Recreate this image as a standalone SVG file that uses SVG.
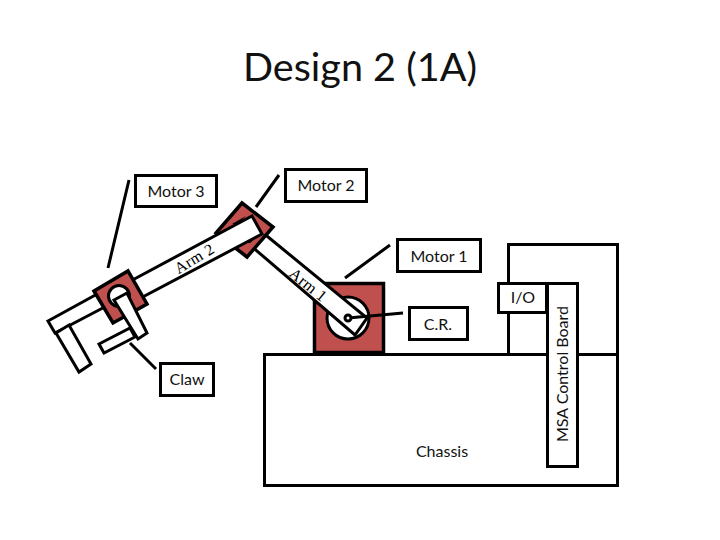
<svg xmlns="http://www.w3.org/2000/svg" width="720" height="540" viewBox="0 0 720 540">
<style>
text{font-family:"Lato","Liberation Sans",sans-serif;font-size:16px;fill:#111;text-anchor:middle}
.b{fill:#fff;stroke:#000;stroke-width:3}
.r{fill:#c0504d;stroke:#000;stroke-width:3.5;stroke-linejoin:miter}
.o{fill:#fff;stroke:#000;stroke-width:3;stroke-linejoin:miter}
.l{fill:none;stroke:#000;stroke-width:3}
text.s{font-family:"Liberation Serif",serif;font-size:16px;letter-spacing:.4px;fill:#000}
</style>
<rect width="720" height="540" fill="#fff"/>
<text id="title" x="360" y="81" style="font-size:39px" textLength="234" lengthAdjust="spacingAndGlyphs">Design 2 (1A)</text>
<g id="base-box"><rect class="b" x="508.5" y="244.5" width="109" height="110"/></g>
<g id="chassis"><rect class="b" x="264.5" y="354.5" width="353" height="131"/><text x="442" y="457">Chassis</text></g>
<g id="motor1-part"><rect class="r" x="314.5" y="283.5" width="69" height="69"/><circle class="o" cx="348" cy="318" r="21"/></g>
<g id="arm1"><polygon class="o" points="262,232 367,318 355,335 250,245"/><text class="s" transform="translate(305,289) rotate(39)">Arm 1</text></g>
<g id="motor2-part"><polygon class="r" points="242,203 273,227 247,257 216,233"/></g>
<g id="arm2"><polygon class="o" points="125,284 252,216 262,234 135,301"/><text class="s" transform="translate(197,263) rotate(-31)">Arm 2</text><path d="M232 224L246 216L238 224ZM245 243L258 236L250 243Z" fill="#000"/></g>
<g id="claw-arm"><polygon class="o" points="48,321 110,287 118,300 55,333"/></g>
<g id="left-finger"><polygon class="o" points="56,333 69,325 91,364 79,372"/></g>
<g id="motor3-part"><polygon class="r" points="94,291 128,271 147,304 113,323"/><circle class="o" cx="119" cy="296" r="10.5"/></g>
<g id="claw-parts"><polygon class="o" points="99,344 130,328 135,337 104,353"/><polygon class="o" points="114,300 127,293 147,333 138,339"/></g>
<g id="connectors">
<path class="l" d="M129 180L108 268M279 175L256 207M390 245L345 278M130 343L156 369M348 318L403 313"/>
<circle class="o" cx="348" cy="318" r="3"/>
</g>
<g id="motor3"><rect class="b" x="135.5" y="175.5" width="81" height="31"/><text x="176" y="197">Motor 3</text></g>
<g id="motor2"><rect class="b" x="285.5" y="169.5" width="81" height="32"/><text x="326" y="191">Motor 2</text></g>
<g id="motor1"><rect class="b" x="397.5" y="239.5" width="83" height="32"/><text x="439" y="262">Motor 1</text></g>
<g id="cr"><rect class="b" x="409.5" y="307.5" width="58" height="32"/><text x="438" y="330">C.R.</text></g>
<g id="claw"><rect class="b" x="160.5" y="363.5" width="53" height="32"/><text x="187" y="385">Claw</text></g>
<g id="io"><rect class="b" x="498.5" y="283.5" width="48" height="29"/><text x="523" y="303">I/O</text></g>
<g id="msa"><rect class="b" x="547.5" y="283.5" width="30" height="183"/><text transform="translate(568,374) rotate(-90)">MSA Control Board</text></g>
</svg>
